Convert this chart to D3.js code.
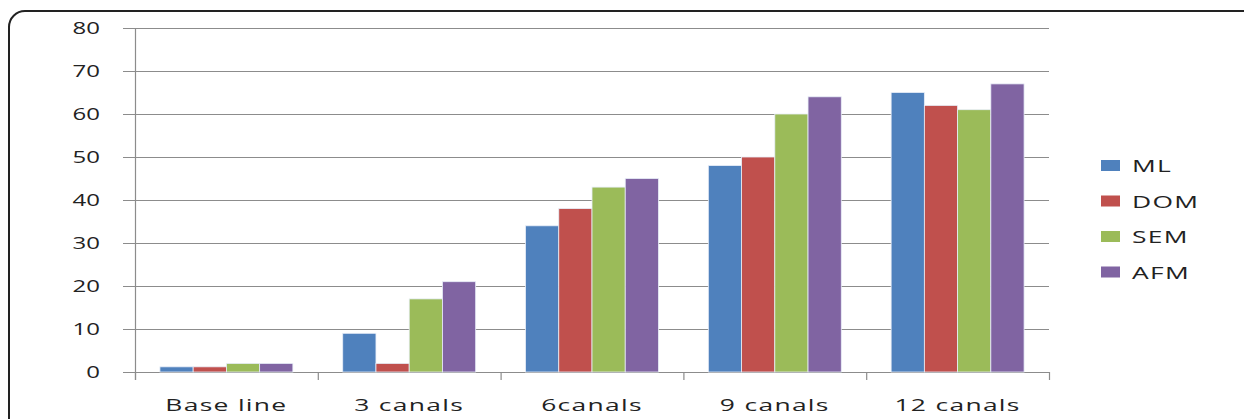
<!DOCTYPE html>
<html>
<head>
<meta charset="utf-8">
<script src="https://cdn.jsdelivr.net/npm/d3@7"></script>
<style>
  body { margin: 0; background: #fff; }
  svg text { font-family: "Open Sans", "DejaVu Sans", sans-serif; fill: #222; }
</style>
</head>
<body>
<div id="chart"></div>
<script>
// data
const categories = ["Base line", "3 canals", "6canals", "9 canals", "12 canals"];
const seriesNames = ["ML", "DOM", "SEM", "AFM"];
const ML  = [1.2, 9, 34, 48, 65];
const DOM = [1.2, 2, 38, 50, 62];
const SEM = [2, 17, 43, 60, 61];
const AFM = [2, 21, 45, 64, 67];
const yTicks = [0, 10, 20, 30, 40, 50, 60, 70, 80];
const colors = ["#4f81bd", "#c0504d", "#9bbb59", "#8064a2"];

const seriesValues = [ML, DOM, SEM, AFM];

let width = 1244, height = 419;
let plot = { left: 135, right: 1049, top: 28, bottom: 372 };
let stretch = 1.5;     // digits in the picture are widened
let wordStretch = 1.65; // words a bit more

let svg = d3.select('#chart').append('svg')
  .attr('width', width)
  .attr('height', height);

// outer frame with rounded corner
svg.append('rect')
  .attr('x', 9).attr('y', 11)
  .attr('width', 1250).attr('height', 430)
  .attr('rx', 16).attr('ry', 16)
  .attr('fill', 'none')
  .attr('stroke', '#222')
  .attr('stroke-width', 2);

let x0 = d3.scaleBand()
  .domain(categories)
  .range([plot.left, plot.right])
  .paddingInner(0)
  .paddingOuter(0);

let x1 = d3.scaleBand()
  .domain(seriesNames)
  .range([0, x0.bandwidth()])
  .paddingOuter(0.75);

let y = d3.scaleLinear()
  .domain([0, 80])
  .range([plot.bottom, plot.top]);

// gridlines
svg.append('g')
  .selectAll('line')
  .data(yTicks)
  .enter().append('line')
  .attr('x1', plot.left - 12)
  .attr('x2', plot.right)
  .attr('y1', d => y(d) + 0.5)
  .attr('y2', d => y(d) + 0.5)
  .attr('stroke', '#8c8c8c')
  .attr('stroke-width', 1.2);

// y axis line
svg.append('line')
  .attr('x1', plot.left + 0.5).attr('x2', plot.left + 0.5)
  .attr('y1', plot.top).attr('y2', plot.bottom + 8)
  .attr('stroke', '#8c8c8c')
  .attr('stroke-width', 1.2);

// category tick marks
svg.append('g')
  .selectAll('line')
  .data(categories.concat(['end']))
  .enter().append('line')
  .attr('x1', (d, i) => plot.left + i * x0.step() + 0.5)
  .attr('x2', (d, i) => plot.left + i * x0.step() + 0.5)
  .attr('y1', plot.bottom)
  .attr('y2', plot.bottom + 8)
  .attr('stroke', '#8c8c8c')
  .attr('stroke-width', 1.2);

// bars
let groups = svg.append('g')
  .selectAll('g')
  .data(categories)
  .enter().append('g')
  .attr('transform', d => 'translate(' + x0(d) + ',0)');

groups.selectAll('rect')
  .data((d, ci) => seriesNames.map((s, si) => ({ s: s, si: si, v: seriesValues[si][ci] })))
  .enter().append('rect')
  .attr('x', d => x1(d.s))
  .attr('y', d => y(d.v))
  .attr('width', x1.bandwidth())
  .attr('height', d => y(0) - y(d.v))
  .attr('fill', d => colors[d.si])
  .attr('stroke', '#e8eef8')
  .attr('stroke-width', 0.8);

// y tick labels
svg.append('g')
  .selectAll('text')
  .data(yTicks)
  .enter().append('text')
  .attr('transform', d => 'translate(100,' + (y(d) + 6) + ') scale(' + stretch + ',1)')
  .attr('text-anchor', 'end')
  .style('font-size', '16px')
  .text(d => d);

// category labels
svg.append('g')
  .selectAll('text')
  .data(categories)
  .enter().append('text')
  .attr('transform', d => 'translate(' + (x0(d) + x0.bandwidth() / 2) + ',411) scale(' + wordStretch + ',1)')
  .attr('text-anchor', 'middle')
  .style('font-size', '16px')
  .style('letter-spacing', '0.8px')
  .text(d => d);

// legend
let legend = svg.append('g')
  .selectAll('g')
  .data(seriesNames)
  .enter().append('g')
  .attr('transform', (d, i) => 'translate(1101,' + (160 + i * 35.5) + ')');

legend.append('rect')
  .attr('width', 19)
  .attr('height', 11)
  .attr('fill', (d, i) => colors[i]);

legend.append('text')
  .attr('transform', 'translate(31,12) scale(' + wordStretch + ',1)')
  .style('font-size', '16px')
  .style('letter-spacing', '0.8px')
  .text(d => d);
</script>
</body>
</html>
